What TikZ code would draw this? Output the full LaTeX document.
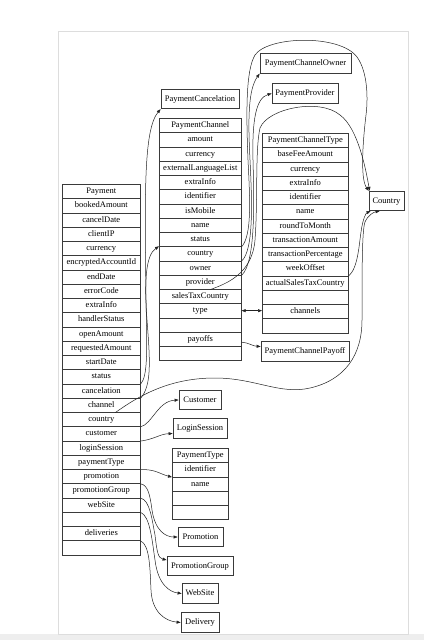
\documentclass[tikz,border=0pt]{standalone}
\usepackage{fontspec}
\setmainfont{Liberation Serif}
\usetikzlibrary{arrows.meta}
\definecolor{linec}{HTML}{3A3A3A}
\definecolor{edgec}{HTML}{222222}
\definecolor{cardline}{HTML}{DDDDDD}
\definecolor{stripc}{HTML}{EEEEEE}
\newcommand\mktable[5]{%
  \foreach \rowtxt [count=\i from 0] in {#5} {
    \node[cell, minimum width=#4pt, anchor=north west] (#1-\i) at (#2, {#3+\i*14.25}) {\rowtxt};
  }}
\begin{document}
\begin{tikzpicture}[x=1pt,y=-1pt,
  cell/.style={draw=linec, line width=0.6pt, minimum height=14.25pt, inner sep=0pt,
    font=\fontsize{8.5}{10}\selectfont, text height=6pt, text depth=1.8pt},
  box/.style={draw=linec, line width=0.8pt, minimum height=19.5pt, inner sep=0pt,
    font=\fontsize{8.5}{10}\selectfont, text height=6pt, text depth=1.8pt},
  edge/.style={draw=edgec, line width=0.5pt, -{Triangle[length=4pt,width=3pt]}},
  edgeboth/.style={draw=edgec, line width=0.5pt, {Triangle[length=4pt,width=3pt]}-{Triangle[length=4pt,width=3pt]}}]
\useasboundingbox (0,0) rectangle (424,640);
\fill[white] (0,0) rectangle (424,640);
\fill[stripc] (0,634) rectangle (424,640);
\draw[cardline, fill=white, line width=0.6pt] (58,31) rectangle (408,634);

% tables
\mktable{pay}{62}{184}{78}{Payment,bookedAmount,cancelDate,clientIP,currency,encryptedAccountId,endDate,errorCode,extraInfo,handlerStatus,openAmount,requestedAmount,startDate,status,cancelation,channel,country,customer,loginSession,paymentType,promotion,promotionGroup,webSite,{},deliveries,{}}
\mktable{pch}{159}{118}{82}{PaymentChannel,amount,currency,externalLanguageList,extraInfo,identifier,isMobile,name,status,country,owner,provider,salesTaxCountry,type,{},payoffs,{}}
\mktable{pct}{262}{133}{86}{PaymentChannelType,baseFeeAmount,currency,extraInfo,identifier,name,roundToMonth,transactionAmount,transactionPercentage,weekOffset,actualSalesTaxCountry,{},channels,{}}
\mktable{ptype}{172}{448}{56}{PaymentType,identifier,name,{},{}}

% simple boxes
\node[box, minimum width=78pt] (pcancel) at (200,99) {PaymentCancelation};
\node[box, minimum width=91pt] (powner) at (305.5,63.5) {PaymentChannelOwner};
\node[box, minimum width=66pt] (pprov) at (305,93.5) {PaymentProvider};
\node[box, minimum width=35pt] (country) at (386.5,201) {Country};
\node[box, minimum width=88pt] (ppayoff) at (305,351.5) {PaymentChannelPayoff};
\node[box, minimum width=42pt] (customer) at (200,400) {Customer};
\node[box, minimum width=54pt] (login) at (200,428.5) {LoginSession};
\node[box, minimum width=45pt] (promo) at (200.5,537) {Promotion};
\node[box, minimum width=66pt] (pgroup) at (200,566) {PromotionGroup};
\node[box, minimum width=36pt] (website) at (200,593.5) {WebSite};
\node[box, minimum width=38pt] (delivery) at (200,622.5) {Delivery};

% Payment edges
\draw[edge] (pay-13.south east) .. controls (148,376) and (147,350) .. (146,300)
  .. controls (145,200) and (143,130) .. (pcancel.south west);
\draw[edge] (pay-14.south east) .. controls (152,385) and (150,360) .. (147,320)
  .. controls (144,280) and (146,255) .. (pch-9.north west);
\draw[edge] ([xshift=14pt]pay-15.south) .. controls (140,395) and (170,378) .. (215,378)
  .. controls (255,378) and (280,395) .. (310,388)
  .. controls (345,380) and (362,355) .. (362,320)
  .. controls (362,270) and (362,230) .. (365,222)
  .. controls (368,215) and (374,212) .. ([xshift=11pt]country.south west);
\draw[edge] (pay-16.south east) .. controls (152,424) and (158,401) .. (customer.west);
\draw[edge] (pay-17.south east) .. controls (155,439) and (160,434) .. ([yshift=-5pt]login.west);
\draw[edge] (pay-19.south east) .. controls (155,469) and (160,474) .. (ptype-1.south west);
\draw[edge] (pay-20.south east) .. controls (148,485) and (150,495) .. (152,510)
  .. controls (155,530) and (165,537) .. (promo.west);
\draw[edge] (pay-21.south east) .. controls (150,500) and (152,520) .. (155,535)
  .. controls (157,552) and (158,558) .. ([yshift=6pt]pgroup.west);
\draw[edge] (pay-22.south east) .. controls (150,516) and (152,540) .. (155,560)
  .. controls (158,585) and (170,592) .. (website.west);
\draw[edge] (pay-24.south east) .. controls (150,545) and (150,570) .. (151,590)
  .. controls (152,612) and (165,621) .. (delivery.west);

% PaymentChannel edges
\draw[edge] (pch-8.south east) .. controls (252,235) and (250,200) .. (248,160)
  .. controls (246,110) and (246,70) .. (255,55)
  .. controls (268,36) and (340,34) .. (357,57)
  .. controls (368,72) and (368,100) .. (366,115)
  .. controls (363,140) and (360,178) .. (country.north west);
\draw[edge] (pch-9.south east) .. controls (254,250) and (252,200) .. (250,160)
  .. controls (248,120) and (248,90) .. (powner.south west);
\draw[edge] (pch-10.south east) .. controls (256,262) and (254,200) .. (253,160)
  .. controls (252,120) and (256,98) .. (pprov.west);
\draw[edge] ([xshift=10pt]pch-11.south) .. controls (225,284) and (252,275) .. (255,240)
  .. controls (258,200) and (255,150) .. (260,128)
  .. controls (268,108) and (320,98) .. (340,115)
  .. controls (358,128) and (366,170) .. ([xshift=1pt]country.north west);
\draw[edgeboth] (pch-13.east) -- (pch-13.east -| pct-12.west);
\draw[edge] ([yshift=-3pt]pch-15.east) .. controls (250,343) and (252,346) .. ([yshift=5pt]ppayoff.west);

% PaymentChannelType edge
\draw[edge] (pct-9.south east) .. controls (358,268) and (359,245) .. (361,232)
  .. controls (363,218) and (366,213) .. ([xshift=2pt]country.south west);
\end{tikzpicture}
\end{document}
